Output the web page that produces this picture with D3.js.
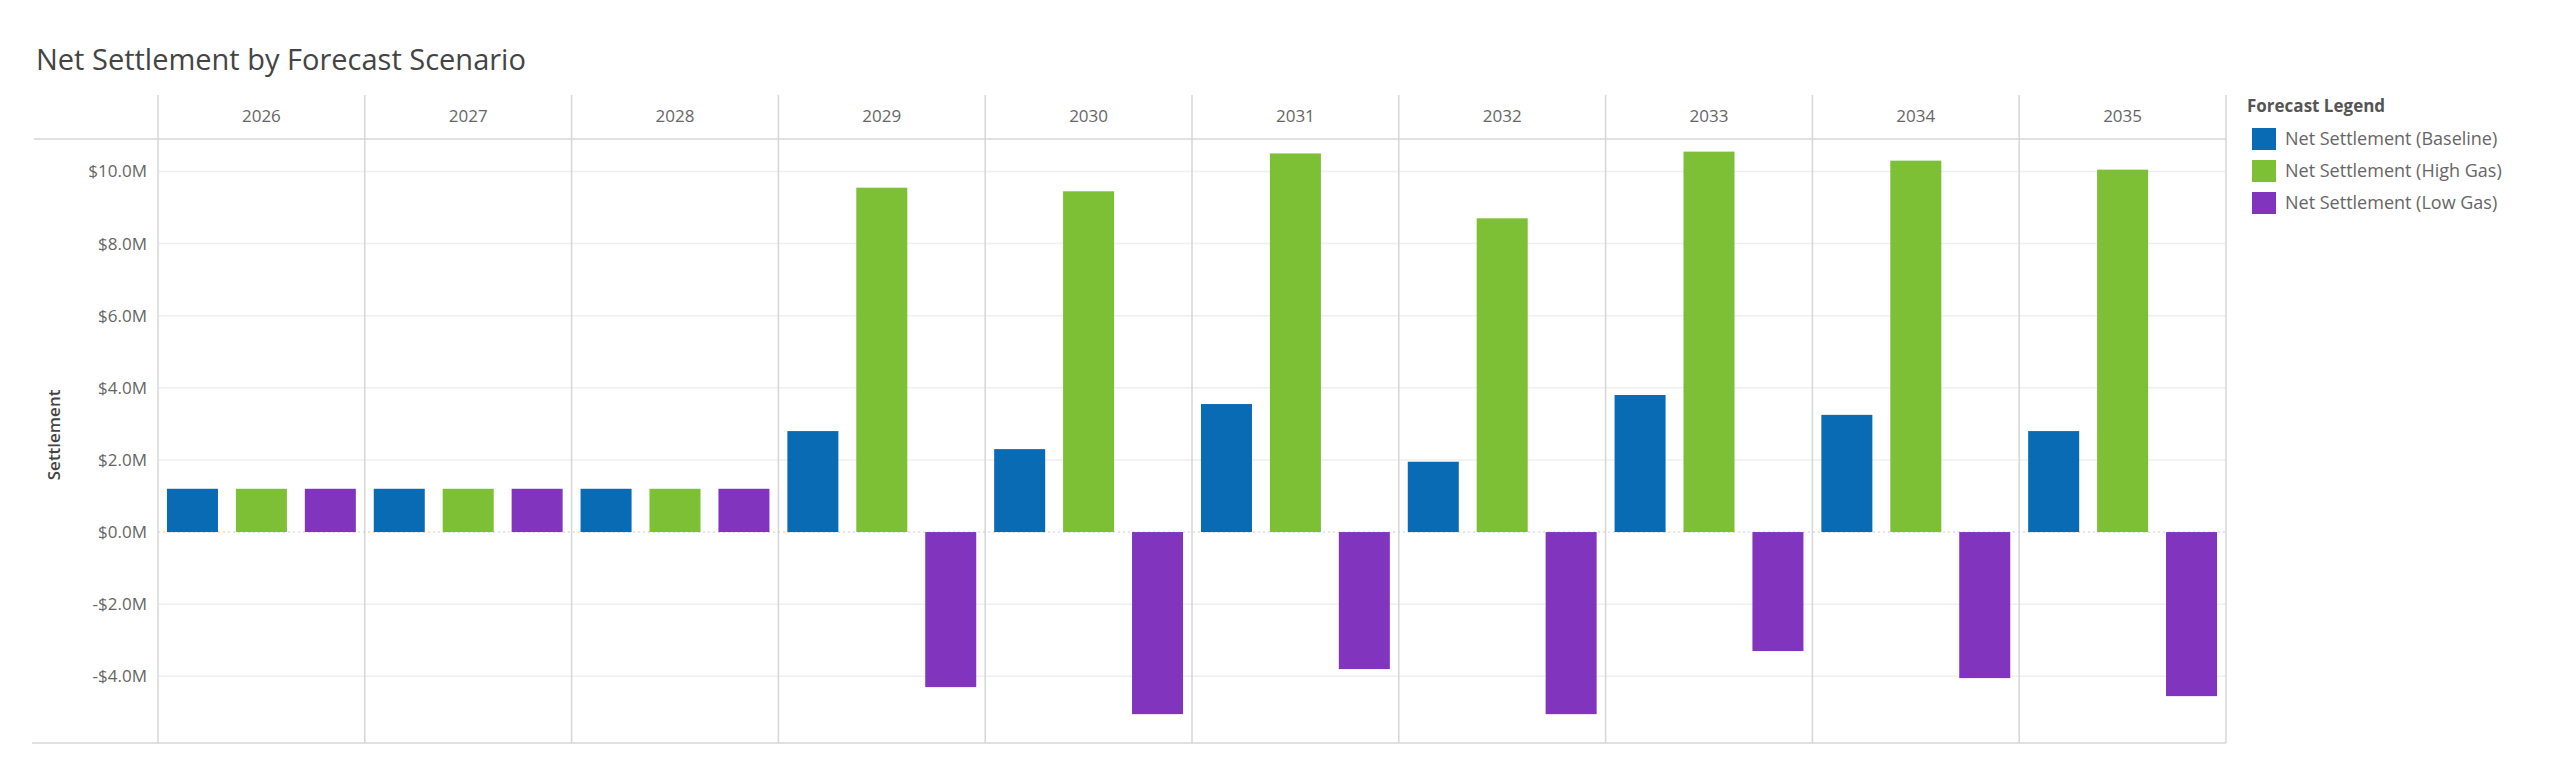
<!DOCTYPE html>
<html><head><meta charset="utf-8">
<script src="https://cdn.jsdelivr.net/npm/d3@7"></script>
<style>
  body { margin: 0; background: #fff; font-family: "Open Sans", sans-serif; }
</style></head>
<body><div id="container"></div>
<script>
const years = ["2026","2027","2028","2029","2030","2031","2032","2033","2034","2035"];
const series = ["Net Settlement (Baseline)", "Net Settlement (High Gas)", "Net Settlement (Low Gas)"];
const baseline = [1.2, 1.2, 1.2, 2.8, 2.3, 3.55, 1.95, 3.8, 3.25, 2.8];
const highGas  = [1.2, 1.2, 1.2, 9.55, 9.45, 10.5, 8.7, 10.55, 10.3, 10.05];
const lowGas   = [1.2, 1.2, 1.2, -4.3, -5.05, -3.8, -5.05, -3.3, -4.05, -4.55];
const yTicks = [-4, -2, 0, 2, 4, 6, 8, 10];
const colors = ["#0a6bb5", "#7dbf35", "#8135bf"];

const W = 2560, H = 766;
const plotLeft = 158, plotRight = 2226, headTop = 95, plotTop = 139, plotBottom = 743;

const svg = d3.select("#container").append("svg").attr("width", W).attr("height", H);

svg.append("text").attr("x", 36).attr("y", 70)
  .attr("font-size", 29).attr("fill", "#444").text("Net Settlement by Forecast Scenario");

const x = d3.scaleBand().domain(years).range([plotLeft, plotRight]);
const inner = d3.scaleBand().domain(d3.range(3)).range([0, x.bandwidth()])
  .paddingInner(0.26).paddingOuter(0.13);
const y = d3.scaleLinear().domain([-5.85, 10.9]).range([plotBottom, plotTop]);

// gridlines
svg.append("g").selectAll("line").data(yTicks.filter(d => d !== 0)).join("line")
  .attr("x1", plotLeft).attr("x2", plotRight).attr("y1", d => y(d)).attr("y2", d => y(d))
  .attr("stroke", "#efefef").attr("stroke-width", 1.5);

// y axis
const yAxis = svg.append("g").attr("transform", `translate(${plotLeft - 8},0)`)
  .call(d3.axisLeft(y).tickValues(yTicks).tickSize(0)
    .tickFormat(d => (d < 0 ? "-$" : "$") + Math.abs(d).toFixed(1) + "M"));
yAxis.select(".domain").remove();
yAxis.selectAll("text").attr("font-size", 17).attr("fill", "#666").attr("font-family", "Open Sans");

svg.append("text").attr("transform", `translate(60,${(y(4) + y(0)) / 2 - 25}) rotate(-90)`)
  .attr("text-anchor", "middle").attr("font-size", 17).attr("font-weight", 600)
  .attr("fill", "#444").text("Settlement");

// panel separators
svg.append("g").selectAll("line").data(years.concat(["end"])).join("line")
  .attr("x1", (d, i) => plotLeft + i * x.step()).attr("x2", (d, i) => plotLeft + i * x.step())
  .attr("y1", headTop).attr("y2", plotBottom).attr("stroke", "#d6d6d6").attr("stroke-width", 1.5);
svg.append("line").attr("x1", 34).attr("x2", plotRight).attr("y1", plotTop).attr("y2", plotTop)
  .attr("stroke", "#d6d6d6").attr("stroke-width", 1.5);
svg.append("line").attr("x1", 32).attr("x2", plotRight).attr("y1", plotBottom).attr("y2", plotBottom)
  .attr("stroke", "#d6d6d6").attr("stroke-width", 1.5);

// year headers
svg.append("g").selectAll("text").data(years).join("text")
  .attr("x", d => x(d) + x.bandwidth() / 2).attr("y", 122).attr("text-anchor", "middle")
  .attr("font-size", 17).attr("fill", "#666").text(d => d);

// zero line
svg.append("line").attr("x1", plotLeft).attr("x2", plotRight).attr("y1", y(0)).attr("y2", y(0))
  .attr("stroke", "#ccc").attr("stroke-dasharray", "2,3");

// bars
const data = [baseline, highGas, lowGas];
data.forEach((vals, s) => {
  svg.append("g").selectAll("rect").data(vals).join("rect")
    .attr("x", (d, i) => x(years[i]) + inner(s))
    .attr("width", inner.bandwidth())
    .attr("y", d => y(Math.max(0, d)))
    .attr("height", d => Math.abs(y(d) - y(0)))
    .attr("fill", colors[s]);
});

// legend
const lg = svg.append("g").attr("transform", "translate(2247,0)");
lg.append("text").attr("x", 0).attr("y", 112).attr("font-size", 17).attr("font-weight", 700)
  .attr("fill", "#555").text("Forecast Legend");
series.forEach((name, i) => {
  const yy = 128 + i * 32;
  lg.append("rect").attr("x", 5).attr("y", yy).attr("width", 24).attr("height", 22).attr("fill", colors[i]);
  lg.append("text").attr("x", 38).attr("y", yy + 17).attr("font-size", 18).attr("fill", "#666").text(name);
});
</script></body></html>
